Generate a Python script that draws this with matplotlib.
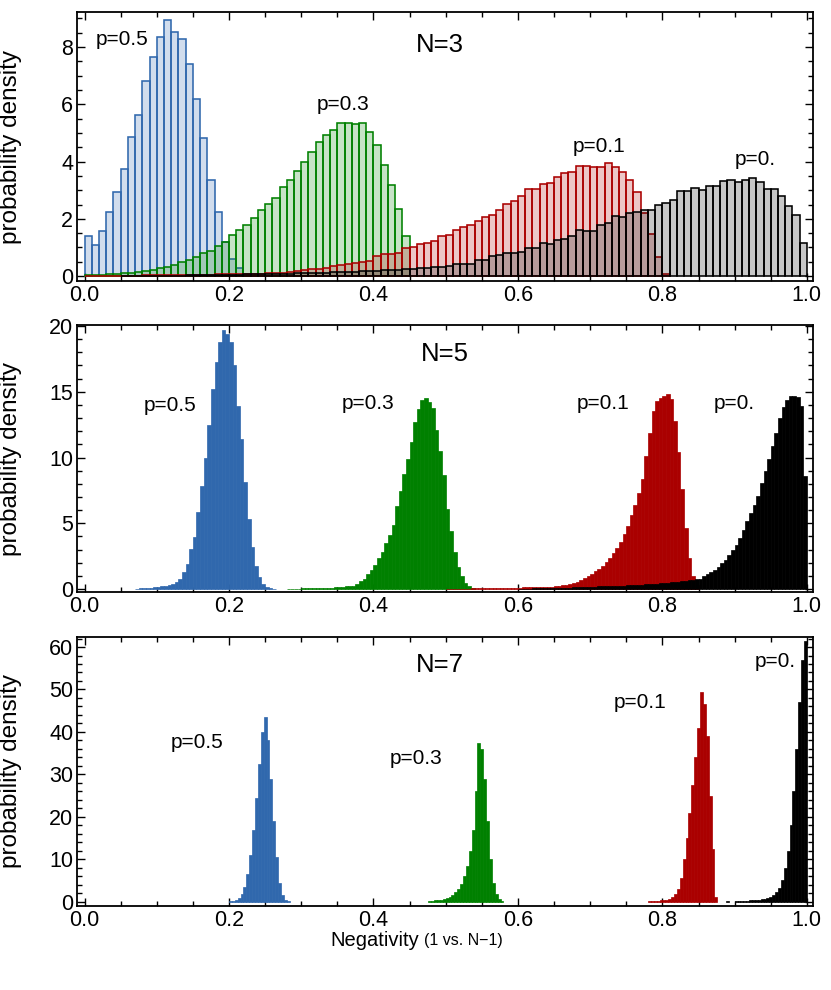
import numpy as np
import matplotlib
matplotlib.use("Agg")
import matplotlib.pyplot as plt
from matplotlib.ticker import MultipleLocator, FormatStrFormatter

plt.rcParams['font.family'] = ['Liberation Sans', 'DejaVu Sans']

# ---------------- data ----------------
# N=3 panel: bin width 0.01, bins start at 0.0
binw3 = 0.01
blue3 = [1.39, 1.10, 1.57, 2.24, 2.93, 3.75, 4.85, 5.62, 6.82, 7.65, 8.35, 8.94, 8.53, 8.29,
         7.40, 6.20, 4.81, 3.34, 2.24, 1.18, 0.60, 0.28, 0.05]
green3 = [0.03, 0.04, 0.05, 0.06, 0.08, 0.10, 0.12, 0.15, 0.18, 0.21, 0.27, 0.32, 0.38, 0.48,
          0.56, 0.67, 0.79, 0.88, 1.05, 1.20, 1.43, 1.60, 1.80, 2.04, 2.30, 2.53, 2.74, 3.11,
          3.36, 3.66, 3.98, 4.32, 4.67, 4.94, 5.11, 5.33, 5.36, 5.31, 5.33, 5.02, 4.59, 3.88,
          3.19, 2.35, 1.39]
red3 = [0.01, 0.01, 0.01, 0.01, 0.02, 0.02, 0.02, 0.02, 0.03, 0.03,
        0.03, 0.03, 0.04, 0.04, 0.04, 0.05, 0.05, 0.05, 0.06, 0.06,
        0.06, 0.07, 0.08, 0.08, 0.09, 0.10, 0.11, 0.12, 0.13, 0.18,
        0.20, 0.24, 0.26, 0.27, 0.35, 0.38, 0.44, 0.46, 0.50, 0.53,
        0.71, 0.77, 0.77, 0.79, 0.99, 1.02, 1.11, 1.14, 1.23, 1.39,
        1.43, 1.60, 1.72, 1.77, 1.91, 2.06, 2.14, 2.30, 2.53, 2.62,
        2.81, 3.05, 3.03, 3.22, 3.25, 3.46, 3.61, 3.63, 3.86, 3.86,
        3.80, 3.80, 3.95, 3.82, 3.62, 3.36, 2.92, 2.20, 1.48, 0.67, 0.09]
black3 = [0.00, 0.00, 0.00, 0.00, 0.00, 0.01, 0.01, 0.01, 0.01, 0.01,
          0.02, 0.02, 0.02, 0.02, 0.03, 0.03, 0.03, 0.04, 0.04, 0.04,
          0.05, 0.05, 0.06, 0.06, 0.07, 0.07, 0.08, 0.08, 0.09, 0.10,
          0.10, 0.11, 0.12, 0.12, 0.13, 0.14, 0.15, 0.16, 0.17, 0.18,
          0.19, 0.20, 0.21, 0.23, 0.24, 0.26, 0.27, 0.29, 0.31, 0.32,
          0.35, 0.41, 0.42, 0.44, 0.56, 0.58, 0.70, 0.75, 0.79, 0.79,
          0.85, 0.99, 0.99, 1.16, 1.11, 1.25, 1.31, 1.39, 1.60, 1.57,
          1.57, 1.80, 1.84, 2.10, 2.08, 2.19, 2.25, 2.30, 2.32, 2.47,
          2.55, 2.67, 2.96, 2.96, 3.07, 2.99, 3.13, 3.13, 3.33, 3.34,
          3.30, 3.36, 3.42, 3.28, 3.04, 3.04, 2.81, 2.46, 2.14, 1.16]
start3 = [0.0, 0.0, 0.0, 0.0]

# N=5 panel: bin width 0.005
binw5 = 0.005
blue5_start = 0.07
blue5 = [0.03, 0.05, 0.05, 0.08, 0.10, 0.12, 0.15, 0.20, 0.25, 0.28, 0.41, 0.56, 0.76, 1.27,
         1.93, 3.05, 3.94, 5.87, 7.83, 9.94, 12.5, 15.2, 17.3, 18.8, 19.7, 19.4, 18.8, 17.0,
         13.9, 11.4, 8.13, 5.34, 3.18, 1.73, 0.92, 0.38, 0.15, 0.05, 0.02]
green5_start = 0.28
green5 = [0.02, 0.02, 0.03, 0.03, 0.04, 0.04, 0.05, 0.05, 0.06, 0.07, 0.08, 0.09, 0.10, 0.12,
          0.14, 0.16, 0.19, 0.22, 0.25, 0.38, 0.58, 0.76, 1.14, 1.47, 1.85, 2.36, 2.82, 3.50,
          4.14, 4.90, 6.30, 7.49, 8.71, 9.85, 11.17, 12.72, 13.66, 14.37, 14.5, 14.22, 13.79,
          12.09, 10.49, 8.66, 6.12, 4.39, 2.82, 1.68, 0.97, 0.46, 0.20, 0.08]
red5_start = 0.50
red5 = [0.01, 0.02, 0.02, 0.02, 0.03, 0.03, 0.03, 0.04, 0.04, 0.05, 0.05, 0.06, 0.06, 0.07,
        0.07, 0.08, 0.08, 0.09, 0.10, 0.10, 0.11, 0.12, 0.12, 0.13, 0.14, 0.15, 0.15, 0.16,
        0.17, 0.18, 0.20, 0.23, 0.28, 0.33, 0.41, 0.46, 0.56, 0.66, 0.81, 0.96, 1.14, 1.35,
        1.52, 1.78, 2.03, 2.34, 2.74, 3.12, 3.55, 4.21, 4.77, 5.59, 6.42, 7.31, 8.40, 10.1,
        11.88, 13.53, 14.29, 14.55, 14.68, 14.8, 14.42, 12.77, 10.41, 7.57, 4.65, 2.36, 0.96,
        0.33]
black5_start = 0.60
black5 = [0.02, 0.02, 0.03, 0.03, 0.04, 0.04, 0.05, 0.05, 0.06, 0.07, 0.07, 0.08, 0.09, 0.10,
          0.11, 0.12, 0.13, 0.14, 0.15, 0.16, 0.17, 0.18, 0.19, 0.20, 0.21, 0.22, 0.23, 0.24,
          0.25, 0.26, 0.27, 0.28, 0.30, 0.31, 0.33, 0.35, 0.37, 0.39, 0.41, 0.43, 0.45, 0.47,
          0.50, 0.53, 0.56, 0.60, 0.63, 0.67, 0.71, 0.75, 0.79, 0.96, 1.14, 1.29, 1.47, 1.68,
          1.98, 2.23, 2.56, 2.95, 3.38, 3.88, 4.47, 5.15, 5.79, 6.42, 7.06, 8.07, 8.96, 9.90,
          10.87, 11.88, 13.02, 13.86, 14.4, 14.68, 14.7, 14.62, 13.9, 8.6]

# N=7 panel: bin width 0.004
binw7 = 0.004
blue7_start = 0.200
blue7 = [0.1, 0.2, 0.4, 0.9, 1.8, 3.5, 6.5, 11, 17, 24.5, 32.5, 40, 43.5, 38, 29, 19, 10.5,
         4.5, 1.5, 0.4, 0.1]
green7_start = 0.476
green7 = [0.1, 0.2, 0.3, 0.4, 0.5, 0.7, 0.9, 1.2, 1.6, 2.2, 3.0, 4.2, 6.0, 8.5, 12, 17, 26,
          37.5, 36, 29, 19, 10, 4.5, 1.8, 0.6, 0.2]
red7_start = 0.780
red7 = [0.1, 0.15, 0.2, 0.25, 0.3, 0.4, 0.5, 0.7, 1.0, 1.8, 3.0, 5.5, 10, 15, 21, 27.5, 34,
        41, 49.5, 46.5, 39, 25, 12.5, 1.2]
black7_start = 0.888
black7 = [0.15, 0.0, 0.0, 0.1, 0.1, 0.15, 0.2, 0.25, 0.3, 0.35, 0.4, 0.45, 0.55, 0.65, 0.8,
          1.1, 1.5, 2.2, 3.3, 5.0, 8.0, 12, 18, 26, 36, 47, 57, 61.5]

p_labels = ["p=0.5", "p=0.3", "p=0.1", "p=0."]
n_labels = ["N=3", "N=5", "N=7"]
x_ticks = [0.0, 0.2, 0.4, 0.6, 0.8, 1.0]

# ---------------- style ----------------
colors = ['#3068ad', '#008000', '#aa0000', '#000000']

W, H = 831, 990
fig = plt.figure(figsize=(W / 100, H / 100), dpi=100)
LEFT_PX, RIGHT_PX = 77.3, 813


def make_ax(top_px, bot_px):
    return fig.add_axes([LEFT_PX / W, 1 - bot_px / H, (RIGHT_PX - LEFT_PX) / W,
                         (bot_px - top_px) / H])


def style_ax(ax, ylim, ymajor, yminor):
    ax.set_xlim(-0.01, 1.0085)
    ax.set_ylim(*ylim)
    ax.set_xticks(x_ticks)
    ax.xaxis.set_major_formatter(FormatStrFormatter('%.1f'))
    ax.xaxis.set_minor_locator(MultipleLocator(0.05))
    ax.yaxis.set_major_locator(MultipleLocator(ymajor))
    ax.yaxis.set_minor_locator(MultipleLocator(yminor))
    ax.tick_params(which='both', direction='in', top=True, right=True, width=1.0,
                   labelsize=15.5, pad=3)
    ax.tick_params(which='major', length=6)
    ax.tick_params(which='minor', length=3.5)
    for s in ax.spines.values():
        s.set_linewidth(1.3)
    ax.set_ylabel('probability density', fontsize=17.5)
    ax.yaxis.set_label_coords((22 - LEFT_PX) / (RIGHT_PX - LEFT_PX), 0.5)


def edges(start, n, w):
    return start + w * np.arange(n)


PFS, NFS = 15, 18.5

# ---- N=3 ----
ax1 = make_ax(12, 281)
series3 = [blue3, green3, red3, black3]
for vals, st, c in zip(series3, start3, colors):
    v = np.array(vals)
    x = edges(st, len(v), binw3)
    m = v > 0
    ax1.bar(x[m], v[m], width=binw3, align='edge', color=matplotlib.colors.to_rgba(c, 0.22),
            edgecolor=c, linewidth=1.15, zorder=2)
style_ax(ax1, (-0.17, 9.22), 2, 0.5)
ax1.text(0.492, 8.07, n_labels[0], fontsize=NFS, ha='center', va='center')
for (tx, ty), lab in zip([(0.052, 8.27), (0.358, 5.98), (0.713, 4.52), (0.928, 4.07)], p_labels):
    ax1.text(tx, ty, lab, fontsize=PFS, ha='center', va='center')

# ---- N=5 ----
ax2 = make_ax(325, 592)
series5 = [(blue5, blue5_start), (green5, green5_start), (red5, red5_start),
           (black5, black5_start)]
for (vals, st), c in zip(series5, colors):
    v = np.array(vals)
    x = edges(st, len(v), binw5)
    ax2.bar(x, v, width=binw5, align='edge', color=c, edgecolor=c, linewidth=0.5, zorder=2)
style_ax(ax2, (-0.23, 20.08), 5, 1)
ax2.text(0.499, 17.9, n_labels[1], fontsize=NFS, ha='center', va='center')
for (tx, ty), lab in zip([(0.118, 13.95), (0.392, 14.1), (0.718, 14.1), (0.9, 14.1)],
                         p_labels):
    ax2.text(tx, ty, lab, fontsize=PFS, ha='center', va='center')

# ---- N=7 ----
ax3 = make_ax(637, 906)
series7 = [(blue7, blue7_start), (green7, green7_start), (red7, red7_start),
           (black7, black7_start)]
for (vals, st), c in zip(series7, colors):
    v = np.array(vals)
    x = edges(st, len(v), binw7)
    m = v > 0
    ax3.bar(x[m], v[m], width=binw7, align='edge', color=c, edgecolor=c, linewidth=0.5,
            zorder=2)
style_ax(ax3, (-1.01, 62.36), 10, 2)
ax3.text(0.492, 55.8, n_labels[2], fontsize=NFS, ha='center', va='center')
for (tx, ty), lab in zip([(0.156, 37.4), (0.459, 33.8), (0.769, 47.0), (0.956, 56.5)],
                         p_labels):
    ax3.text(tx, ty, lab, fontsize=PFS, ha='center', va='center')

fig.text(419 / W, 1 - 940 / H, 'Negativity', fontsize=14.5, ha='right', va='center')
fig.text(424 / W, 1 - 941 / H, '(1 vs. N\u22121)', fontsize=11.5, ha='left', va='center')

fig.savefig('out.png', dpi=100)
